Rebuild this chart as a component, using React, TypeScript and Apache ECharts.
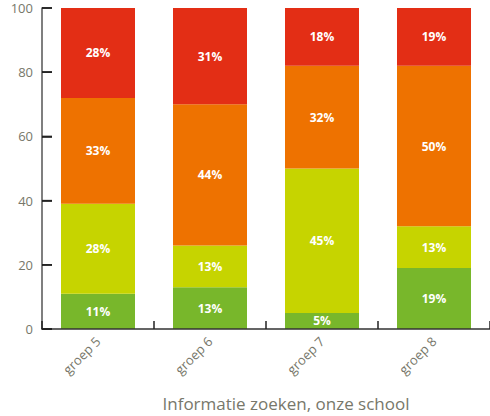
import React, { useEffect, useRef } from "react";
import * as echarts from "echarts";

const categories = ["groep 5", "groep 6", "groep 7", "groep 8"];
const seriesNames = ["1", "2", "3", "4"];
const s1 = [11, 13, 5, 19];
const s2 = [28, 13, 45, 13];
const s3 = [33, 44, 32, 50];
const s4 = [28, 31, 18, 19];
const colors = ["#78b72b", "#c6d400", "#ee7200", "#e32e15"];
const yTicks = [0, 20, 40, 60, 80, 100];
const title = "Informatie zoeken, onze school";

export default function App() {
  const ref = useRef<HTMLDivElement>(null);
  useEffect(() => {
    if (!ref.current) return;
    const chart = echarts.init(ref.current, undefined, { renderer: "svg" });
    const data = [s1, s2, s3, s4];
    const barSeries = data.map((d, i) => ({
      name: seriesNames[i],
      type: "bar",
      stack: "total",
      barWidth: 74,
      clip: true,
      data: d,
      itemStyle: { color: colors[i] },
      label: {
        show: true,
        position: "inside",
        formatter: (p: any) => p.value + "%",
        color: "#fff",
        fontFamily: "Open Sans",
        fontWeight: "bold",
        fontSize: 12,
      },
    }));
    const tickSeries = {
      type: "custom",
      name: "yticks",
      z: 20,
      clip: false,
      silent: true,
      data: yTicks.map((v) => [0, v]),
      renderItem: (params: any, api: any) => {
        const p = api.coord([api.value(0), api.value(1)]);
        const left = params.coordSys.x;
        return {
          type: "line",
          shape: { x1: left, y1: p[1], x2: left + 10, y2: p[1] },
          style: { stroke: "#222", lineWidth: 1.5 },
        };
      },
    };
    chart.setOption({
      animation: false,
      title: {
        text: title,
        left: 281,
        textAlign: "center",
        top: 390,
        textStyle: {
          fontFamily: "Open Sans",
          fontWeight: "normal",
          fontSize: 17,
          color: "#77776a",
        },
      },
      grid: { left: 42, right: -8, top: 8, bottom: 87, containLabel: false },
      xAxis: {
        type: "category",
        data: categories,
        z: 5,
        axisLine: { lineStyle: { color: "#333", width: 1.5 } },
        axisTick: { show: true, inside: true, length: 8, lineStyle: { color: "#222", width: 1.5 } },
        axisLabel: {
          rotate: 45,
          fontFamily: "Open Sans",
          fontSize: 13,
          color: "#77776a",
          margin: 10,
        },
      },
      yAxis: {
        type: "value",
        min: 0,
        max: 100,
        interval: 20,
        z: 5,
        splitLine: { show: false },
        axisLine: { show: true, lineStyle: { color: "#555", width: 1.5 } },
        axisTick: { show: true, inside: true, length: 10, lineStyle: { color: "#111", width: 1.5 } },
        axisLabel: {
          fontFamily: "Open Sans",
          fontSize: 13,
          color: "#77776a",
          margin: 9,
          formatter: (v: number) => (yTicks.includes(v) ? String(v) : ""),
        },
      },
      series: [...barSeries, tickSeries],
    });
    return () => chart.dispose();
  }, []);
  return <div ref={ref} style={{ width: 490, height: 416, position: "absolute", left: 0, top: 0 }} />;
}
